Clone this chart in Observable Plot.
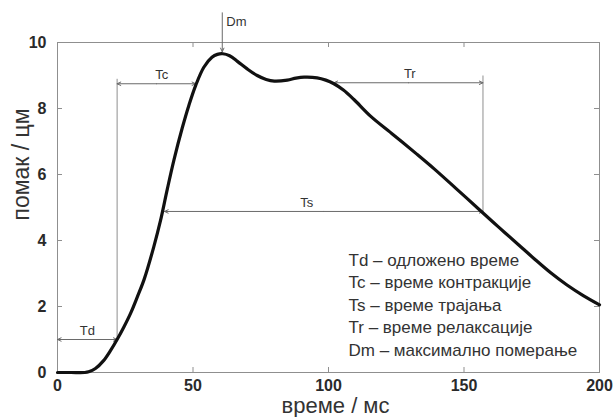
<!DOCTYPE html>
<html>
<head>
<meta charset="utf-8">
<script src="https://cdn.jsdelivr.net/npm/d3@7"></script>
<script src="https://cdn.jsdelivr.net/npm/@observablehq/plot@0.6"></script>
<style>
  html, body { margin: 0; padding: 0; background: #fff; }
  #chart svg { display: block; }
</style>
</head>
<body>
<div id="chart"></div>
<script>
// ---- data ----
const times = [0, 5, 10, 11.5, 14, 17, 19.6, 22, 24.5, 27, 29.5, 32, 35.5, 38, 40.5, 43, 46, 48.5, 51, 54, 57, 59, 61, 63.5, 66.5, 70, 73.7, 77, 80, 84.8, 88, 91, 95.8, 99, 102, 105.5, 109.3, 115.5, 124, 132.7, 139, 147, 156, 163, 170, 176, 182, 188, 194, 200];
const displacement = [0, 0, 0, 0.02, 0.12, 0.36, 0.67, 1.0, 1.38, 1.8, 2.3, 2.83, 3.8, 4.6, 5.55, 6.45, 7.4, 8.1, 8.7, 9.25, 9.55, 9.64, 9.66, 9.6, 9.42, 9.2, 9.0, 8.88, 8.83, 8.86, 8.92, 8.95, 8.93, 8.86, 8.75, 8.56, 8.28, 7.77, 7.2, 6.61, 6.17, 5.58, 4.91, 4.39, 3.88, 3.44, 3.02, 2.65, 2.33, 2.05];

const xTicks = [0, 50, 100, 150, 200];
const yTicks = [0, 2, 4, 6, 8, 10];

// interval annotations
const spanNames = ["Td", "Tc", "Ts", "Tr"];
const spanStart = [0, 22, 39.5, 102];
const spanEnd = [22, 51, 157, 157];
const spanLevel = [1.0, 8.75, 4.88, 8.78];
const spanLabelX = [11, 38.5, 92, 130];

// vertical guide lines
const guideX = [22, 157];
const guideBottom = [1.0, 4.88];
const guideTop = [8.9, 9.0];

// maximum displacement marker
const dmName = "Dm";
const dmX = 60.8;
const dmTop = 10.9;
const dmTip = 9.72;

const legendLines = [
  "Td – одложено време",
  "Tc – време контракције",
  "Ts – време трајања",
  "Tr – време релаксације",
  "Dm – максимално померање"
];

const xLabel = "време / мс";
const yLabel = "помак / цм";

// ---- build ----
const curve = times.map((t, i) => ({t, d: displacement[i]}));
const spans = spanNames.map((n, i) => ({n, a: spanStart[i], b: spanEnd[i], m: (spanStart[i] + spanEnd[i]) / 2, y: spanLevel[i], lx: spanLabelX[i]}));
const guides = guideX.map((x, i) => ({x, y1: guideBottom[i], y2: guideTop[i]}));

const W = 614, H = 417;
const mL = 57, mR = 15, mT = 42, mB = 45;
const fw = W - mL - mR, fh = H - mT - mB;
const font = "'Liberation Sans', Arial, sans-serif";
const grey = "#8f8f8f";
const arrowGrey = "#6a6a6a";

const chart = Plot.plot({
  width: W,
  height: H,
  marginLeft: mL,
  marginRight: mR,
  marginTop: mT,
  marginBottom: mB,
  style: {fontFamily: font, background: "#fff", overflow: "visible"},
  x: {domain: [0, 200]},
  y: {domain: [0, 10]},
  marks: [
    Plot.frame({stroke: grey, strokeWidth: 1}),
    // inward ticks on all four sides
    Plot.tickX(xTicks, {x: d => d, insetTop: fh - 5, stroke: grey}),
    Plot.tickX(xTicks, {x: d => d, insetBottom: fh - 5, stroke: grey}),
    Plot.tickY(yTicks, {y: d => d, insetRight: fw - 5, stroke: grey}),
    Plot.tickY(yTicks, {y: d => d, insetLeft: fw - 5, stroke: grey}),
    Plot.axisX({ticks: xTicks, tickSize: 0, tickPadding: 7, label: null, fontSize: 16, fontWeight: "bold", fill: "#2a2a2a"}),
    Plot.axisY({ticks: yTicks, tickSize: 0, tickPadding: 11, label: null, fontSize: 16, fontWeight: "bold", fill: "#2a2a2a"}),
    // guide lines
    Plot.link(guides, {x1: "x", x2: "x", y1: "y1", y2: "y2", stroke: grey, strokeWidth: 1}),
    // interval double arrows (two half-arrows from the midpoint)
    Plot.arrow(spans, {x1: "m", x2: "a", y1: "y", y2: "y", stroke: arrowGrey, strokeWidth: 1, headLength: 6, headAngle: 50}),
    Plot.arrow(spans, {x1: "m", x2: "b", y1: "y", y2: "y", stroke: arrowGrey, strokeWidth: 1, headLength: 6, headAngle: 50}),
    Plot.text(spans, {x: "lx", y: "y", text: "n", dy: -9, fontSize: 13, fill: "#333"}),
    // Dm
    Plot.arrow([dmName], {x1: () => dmX, x2: () => dmX, y1: () => dmTop, y2: () => dmTip, stroke: arrowGrey, strokeWidth: 1, headLength: 6, headAngle: 50}),
    Plot.text([dmName], {x: () => dmX, y: () => dmTop, text: d => d, textAnchor: "start", dx: 4, dy: 9, fontSize: 13, fill: "#333"}),
    // the curve
    Plot.line(curve, {x: "t", y: "d", stroke: "#111", strokeWidth: 3.2, curve: "catmull-rom"}),
    // legend
    Plot.text([legendLines.join("\n")], {frameAnchor: "top-left", dx: 291, dy: 207, lineAnchor: "top", textAnchor: "start", lineHeight: 1.33, fontSize: 17, fill: "#333"}),
    // axis titles
    Plot.text([xLabel], {frameAnchor: "bottom", lineAnchor: "middle", dy: 33, dx: 7, text: d => d, fontSize: 22, fill: "#333"}),
    Plot.text([yLabel], {frameAnchor: "left", lineAnchor: "middle", dx: -36, dy: 13, rotate: -90, text: d => d, fontSize: 23, fill: "#333"})
  ]
});
document.getElementById("chart").appendChild(chart);
</script>
</body>
</html>
